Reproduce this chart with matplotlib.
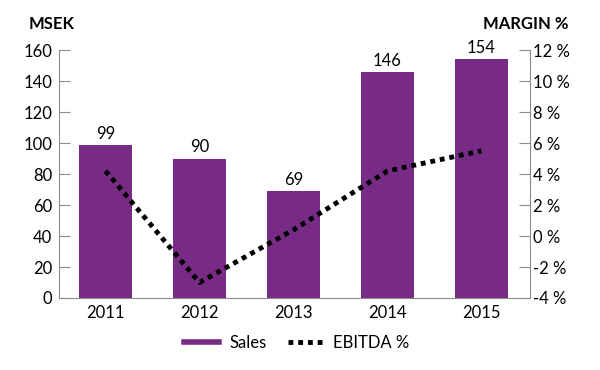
import matplotlib
matplotlib.use("Agg")
import matplotlib.pyplot as plt
from matplotlib.lines import Line2D

plt.rcParams['font.family'] = ['Lato', 'DejaVu Sans']

years = ["2011", "2012", "2013", "2014", "2015"]
sales = [99, 90, 69, 146, 154]
ebitda = [4.2, -3.0, 0.4, 4.2, 5.5]

PURPLE = "#782B84"
GREY = "#8c8c8c"

fig = plt.figure(figsize=(6, 3.7), dpi=100)
ax = fig.add_axes([0.0983, 0.1946, 0.785, 0.670])
x = range(len(years))

ax.bar(x, sales, width=0.56, color=PURPLE, zorder=2)
for xi, v in zip(x, sales):
    ax.text(xi, v + 2, str(v), ha="center", va="bottom", fontsize=12)

ax.set_xlim(-0.495, 4.516)
ax.set_ylim(0, 160)
ax.set_yticks(range(0, 161, 20))
ax.set_xticks(list(x))
ax.set_xticklabels(years)
ax.tick_params(axis="x", length=0, labelsize=12, pad=5)
ax.tick_params(axis="y", direction="in", length=8, color=GREY, labelsize=12, pad=5)
for s in ["top", "right"]:
    ax.spines[s].set_visible(False)
for s in ["left", "bottom"]:
    ax.spines[s].set_color(GREY)

ax2 = ax.twinx()
ax2.plot(x, ebitda, color="black", linestyle=(0, (1, 1)), linewidth=3.5, zorder=3)
ax2.set_ylim(-4, 12)
ax2.set_yticks(range(-4, 13, 2))
ax2.set_yticklabels([f"{t} %" for t in range(-4, 13, 2)])
ax2.tick_params(axis="y", direction="in", length=8, color=GREY, labelsize=12, pad=2)
for s in ["top", "left", "bottom"]:
    ax2.spines[s].set_visible(False)
ax2.spines["right"].set_color(GREY)

fig.text(0.048, 0.935, "MSEK", fontsize=12, fontweight="bold", ha="left", va="center")
fig.text(0.947, 0.935, "MARGIN %", fontsize=12, fontweight="bold", ha="right", va="center")

handles = [Line2D([], [], color=PURPLE, linewidth=4, label="Sales"),
           Line2D([], [], color="black", linestyle=(0, (1, 1)), linewidth=3.5, label="EBITDA %")]
fig.legend(handles=handles, loc="center", bbox_to_anchor=(0.495, 0.073), ncol=2,
           frameon=False, fontsize=12, handlelength=2.1,
           handletextpad=0.6, columnspacing=1.3)

fig.savefig("out.png", dpi=100)
